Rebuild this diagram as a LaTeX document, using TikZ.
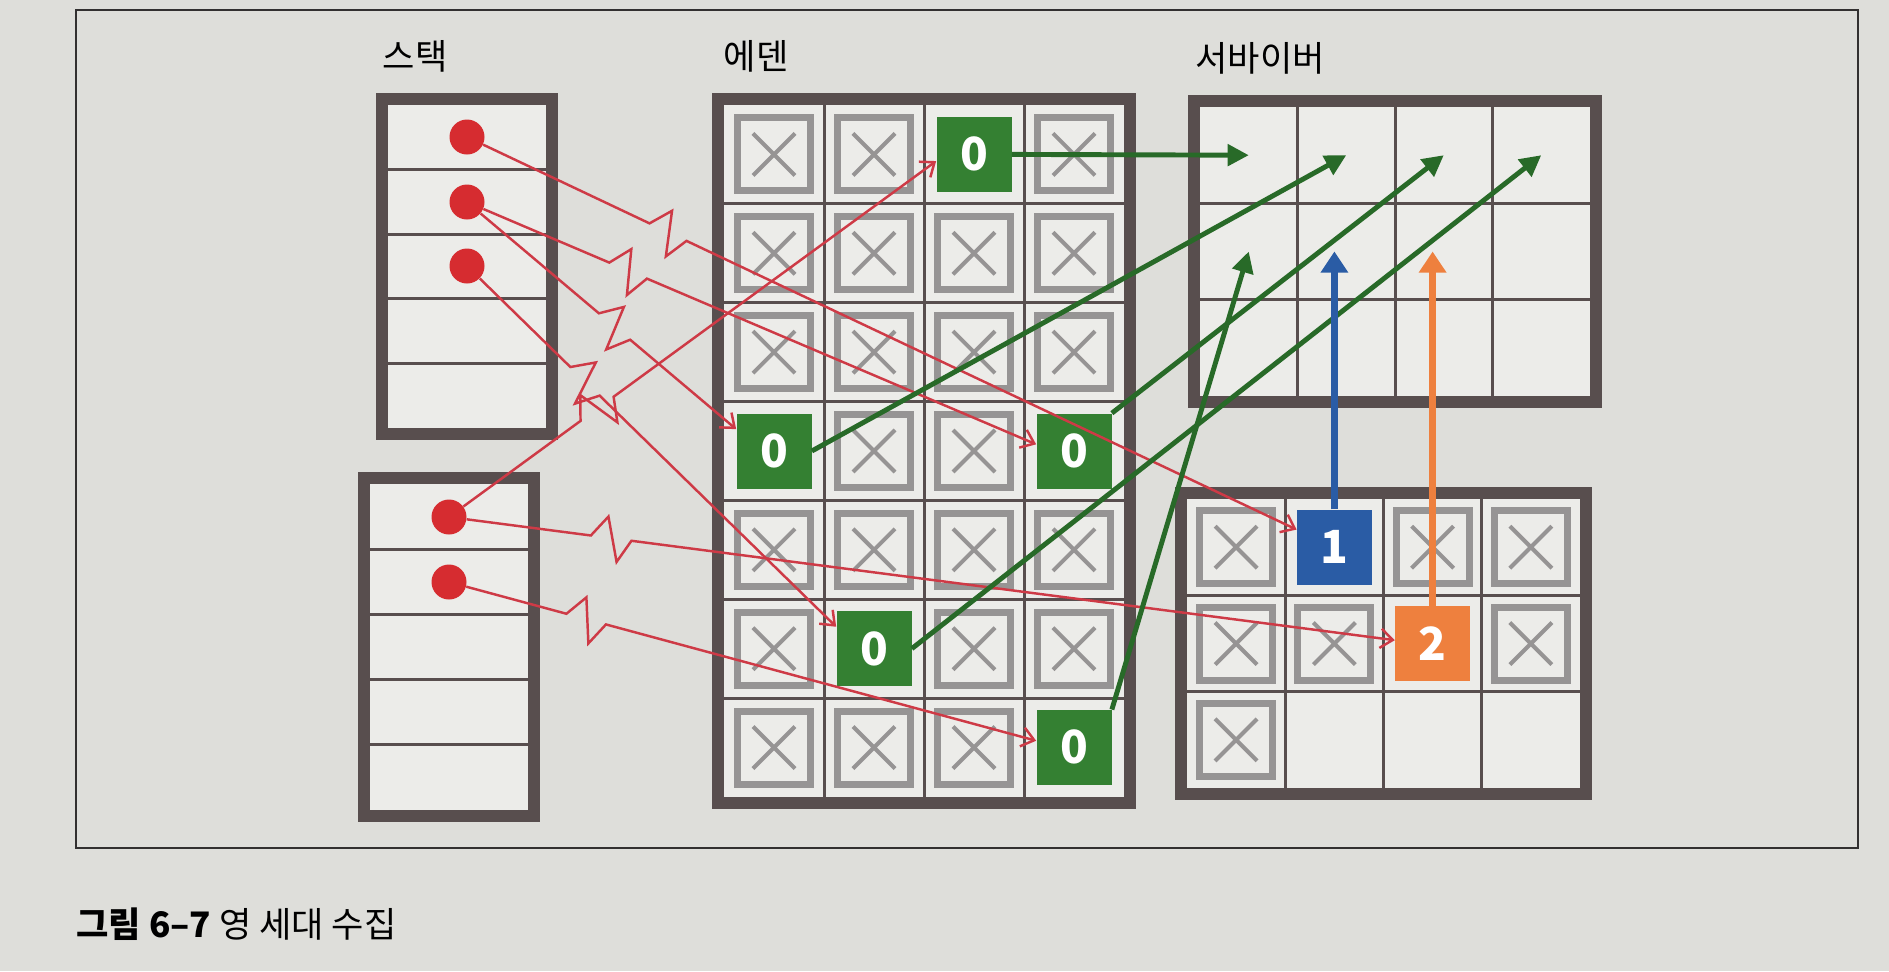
\documentclass[tikz,border=0pt]{standalone}
\usepackage{fontspec}
\setmainfont{Noto Sans CJK KR}
\usetikzlibrary{calc,positioning,arrows.meta}
\definecolor{paper}{RGB}{222,222,218}
\definecolor{cellbg}{RGB}{236,236,233}
\definecolor{wallc}{RGB}{88,78,78}
\definecolor{framec}{RGB}{50,48,48}
\definecolor{xgray}{RGB}{150,148,148}
\definecolor{live}{RGB}{52,128,50}
\definecolor{liveline}{RGB}{40,106,40}
\definecolor{ageone}{RGB}{42,92,165}
\definecolor{agetwo}{RGB}{238,128,62}
\definecolor{refdot}{RGB}{214,44,48}
\definecolor{refline}{RGB}{206,58,70}
\tikzset{
%wall = thick outline of a space, cellline = the thin lines between cells
wall/.style={draw=wallc, line width=6.8pt},
cellline/.style={draw=wallc, line width=1.7pt},
lbl/.style={font=\fontsize{20}{24}\selectfont},
obj/.style={fill=live, text=white, minimum size=1.5cm, inner sep=0pt,
  font=\bfseries\fontsize{26}{26}\selectfont},
dot/.style={circle, fill=refdot, minimum size=0.7cm, inner sep=0pt},
ref/.style={draw=refline, line width=1.4pt, -{Straight Barb[length=7pt,width=11pt]}},
copy/.style={draw=#1, line width=2.8pt, -{Triangle[length=12pt,width=12pt]}},
promote/.style={draw=#1, line width=3.6pt, -{Triangle[length=12pt,width=15pt]}},
xmark/.pic={
  \draw[xgray, line width=4pt] (-36.5,-36.5) rectangle (36.5,36.5);
  \draw[xgray, line width=2.3pt] (-21,-21) -- (21,21) (-21,21) -- (21,-21);
}
}
% a reference line with a lightning break at a fraction of its length
\tikzset{
zig/.style={to path={
  -- ($(\tikztostart)!#1!(\tikztotarget)$) coordinate (zz)
  -- ($(zz)!14.7pt!54.5:(\tikztotarget)$)
  -- ($(zz)!21pt!-38.4:(\tikztotarget)$)
  -- ($(zz)!23.3pt!(\tikztotarget)$)
  -- (\tikztotarget)}}
}

\begin{document}
\begin{tikzpicture}[x=0.02cm,y=-0.02cm]
\useasboundingbox (0,0) rectangle (1889,971);
\fill[paper] (0,0) rectangle (1889,971);
\draw[framec, line width=1.1pt] (76,10) rectangle (1858,848);

% titles
\node[lbl] (stk) at (415,56) {스택};
\node[lbl] (edn) at (756,56) {에덴};
\node[lbl] (srv) at (1260,58) {서바이버};

% stack
\fill[cellbg] (382,99) rectangle (552,434);
\foreach \y in {169.6,234.2,298.8,363.4} \draw[cellline] (382,\y) -- (552,\y);
\draw[wall] (382,99) rectangle (552,434);
\fill[cellbg] (364,478) rectangle (534,816);
\foreach \y in {549.2,614.4,679.6,744.8} \draw[cellline] (364,\y) -- (534,\y);
\draw[wall] (364,478) rectangle (534,816);

% eden
\fill[cellbg] (718,99) rectangle (1130,803);
\foreach \x in {824,924,1024} \draw[cellline] (\x,105) -- (\x,797);
\foreach \r in {1,...,6} \draw[cellline] (724,{105+98.86*\r}) -- (1124,{105+98.86*\r});
\draw[wall] (718,99) rectangle (1130,803);
\foreach \r/\cols in {0/{0,1,3},1/{0,1,2,3},2/{0,1,2,3},3/{1,2},4/{0,1,2,3},5/{0,2,3},6/{0,1,2}}
  \foreach \c in \cols
    \pic at ({774+100*\c},{154.4+98.86*\r}) {xmark};

% survivor spaces
\fill[cellbg] (1194,101) rectangle (1596,402);
\foreach \x in {1297.5,1395,1492.5} \draw[cellline] (\x,107) -- (\x,396);
\foreach \y in {203.3,299.6} \draw[cellline] (1200,\y) -- (1590,\y);
\draw[wall] (1194,101) rectangle (1596,402);
\foreach \r in {0,1} \foreach \c in {0,...,3}
  \coordinate (s\r\c) at ({1248.75+97.5*\c},{155.2+96.3*\r});

\fill[cellbg] (1181,493) rectangle (1586,794);
\foreach \x in {1285.25,1383.5,1481.75} \draw[cellline] (\x,499) -- (\x,788);
\foreach \y in {595.3,691.7} \draw[cellline] (1187,\y) -- (1580,\y);
\draw[wall] (1181,493) rectangle (1586,794);
\foreach \r/\cols in {0/{0,2,3},1/{0,1,3},2/{0}}
  \foreach \c in \cols
    \pic at ({1236.1+98.25*\c},{547.2+96.33*\r}) {xmark};

% live objects
\node[obj] (e02) at (974,154.4) {0};
\node[obj] (e30) at (774,451) {0};
\node[obj] (e33) at (1074,451) {0};
\node[obj] (e51) at (874,648.6) {0};
\node[obj] (e63) at (1074,747.4) {0};
\node[obj, fill=ageone] (b1) at (1334.4,547.2) {1};
\node[obj, fill=agetwo] (o2) at (1432.6,643.5) {2};

% roots
\node[dot] (d1) at (467,137) {};
\node[dot] (d2) at (467,202) {};
\node[dot] (d3) at (467,266) {};
\node[dot] (d4) at (449,517) {};
\node[dot] (d5) at (449,582) {};

\draw[ref] (d1) to[zig=0.22] (b1.155);
\draw[ref] (d2) to[zig=0.25] (e33.170);
\draw[ref] (d2) to[zig=0.49] (e30.150);
\draw[ref] (d3) to[zig=0.28] (e51.150);
\draw[ref] (d4) to[zig=0.27] (e02.190);
\draw[ref] (d4) to[zig=0.15] (o2.175);
\draw[ref] (d5) to[zig=0.2] (e63.170);

% copies
\draw[copy=liveline] (e02.east) -- (s00);
\draw[copy=liveline] (e30.east) -- (s01);
\draw[copy=liveline] (e33.north east) -- (s02);
\draw[copy=liveline] (e51.east) -- (s03);
\draw[copy=liveline] (e63.north east) -- (s10);
\draw[promote=ageone] (b1.north) -- (b1.north |- s11);
\draw[promote=agetwo] (o2.north) -- (o2.north |- s12);

\node[lbl, anchor=west, inner sep=0pt] (cap) at (76,924) {\textbf{그림 6–7} 영 세대 수집};
\end{tikzpicture}
\end{document}
